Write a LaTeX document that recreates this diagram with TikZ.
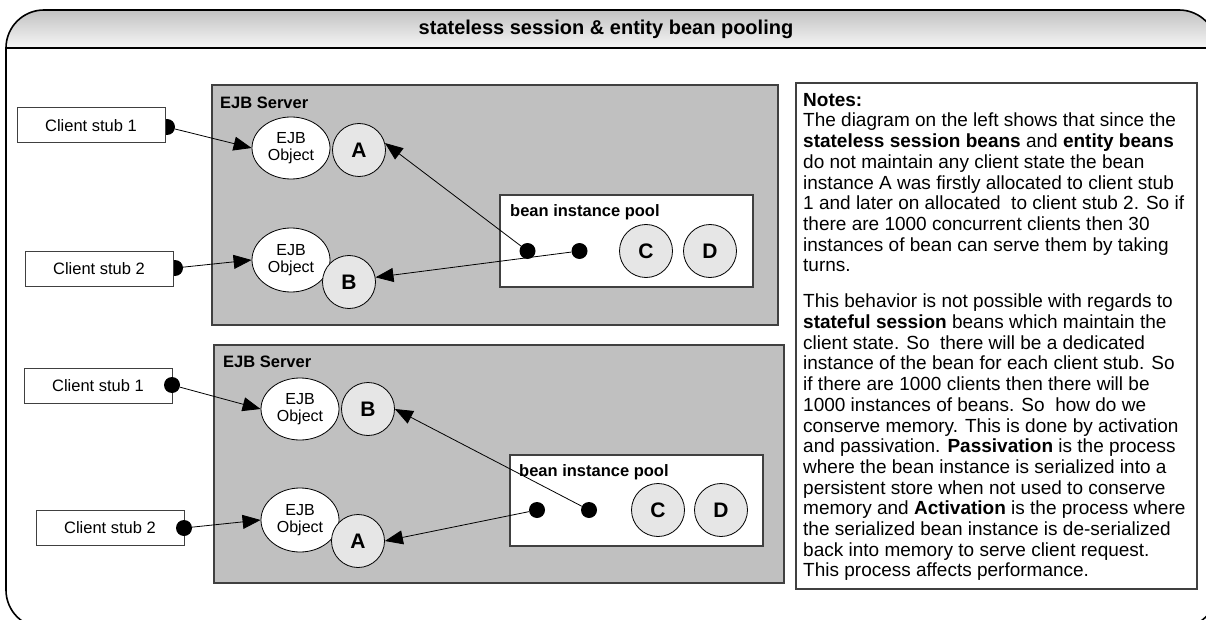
\documentclass[tikz,border=0pt]{standalone}
\usepackage{fontspec}
\setmainfont{Liberation Sans}
\usetikzlibrary{arrows.meta,shapes.geometric}
\definecolor{srv}{HTML}{C0C0C0}
\definecolor{beanfill}{HTML}{E6E6E6}
\definecolor{edgec}{HTML}{404040}
\definecolor{hdrtop}{HTML}{C2C2C2}
\definecolor{hdrbot}{HTML}{F6F6F6}
\begin{document}
\begin{tikzpicture}[x=1pt,y=-1pt,
  stub/.style={draw=edgec,line width=1pt,fill=white,minimum width=148pt,minimum height=35pt,inner sep=0pt,font=\fontsize{16.5}{18}\selectfont},
  dotn/.style={circle,fill=black,minimum size=16pt,inner sep=0pt},
  ejb/.style={ellipse,draw=black,line width=0.8pt,fill=white,minimum width=78pt,minimum height=62pt,inner sep=0pt,align=center,font=\fontsize{16}{17}\selectfont},
  beanc/.style={circle,draw=black,line width=0.8pt,fill=beanfill,minimum size=53pt,inner sep=0pt,font=\fontsize{21}{21}\bfseries\selectfont},
  server/.style={draw=edgec,line width=1.2pt,fill=srv,inner sep=0pt},
  pool/.style={draw=edgec,line width=1.2pt,fill=white,inner sep=0pt},
  conn/.style={line width=0.8pt,-{Triangle[length=18pt,width=14pt]}},
  lbl/.style={font=\fontsize{16.5}{18}\bfseries\selectfont,inner sep=0pt,anchor=base west},
]
\useasboundingbox (0,0) rectangle (1206,620);
\begin{scope}
\clip (0,0) rectangle (1206,620);
% frame and header
\begin{scope}
\clip[rounded corners=38pt] (6,10) rectangle (1217,628);
\shade[top color=hdrtop,bottom color=hdrbot] (0,10) rectangle (1230,48);
\end{scope}
\draw[line width=1.6pt,rounded corners=38pt] (6,10) rectangle (1217,628);
\draw[line width=1.6pt] (6,48) -- (1217,48);
\node[font=\fontsize{20}{22}\bfseries\selectfont] (title) at (606,29) {stateless session \& entity bean pooling};

% ---------- top server ----------
\node[server,minimum width=566pt,minimum height=240pt] (srv1) at (495,205) {};
\node[lbl] (srv1l) at (220,109) {EJB Server};
\node[pool,minimum width=253pt,minimum height=92pt] (pool1) at (626.5,241) {};
\node[lbl] (pool1l) at (510,217) {bean instance pool};

\node[dotn] (s1d) at (167,127) {};
\node[dotn] (s2d) at (175,268) {};
\node[stub] (s1) at (91,125.5) {Client stub 1};
\node[stub] (s2) at (99,268.5) {Client stub 2};

\node[ejb] (e1) at (291,148) {EJB\\Object};
\node[ejb,minimum height=64pt] (e2) at (291,260) {EJB\\Object};
\node[beanc] (a1) at (359,150) {A};
\node[beanc] (b1) at (349,282) {B};

\node[dotn] (p1a) at (527.5,251) {};
\node[dotn] (p1b) at (579.5,251) {};
\node[beanc] (c1) at (646,251) {C};
\node[beanc] (d1) at (710,251) {D};

\draw[conn] (s1d) -- (e1.west);
\draw[conn] (s2d) -- (e2.west);
\draw[conn] (p1a) -- (a1.15);
\draw[conn] (p1b) -- (b1.10);

% ---------- bottom server ----------
\node[server,minimum width=570pt,minimum height=238pt] (srv2) at (499,464) {};
\node[lbl] (srv2l) at (223,367) {EJB Server};
\node[pool,minimum width=253pt,minimum height=91pt] (pool2) at (636.5,500.5) {};

\node[stub] (t1) at (98,385.5) {Client stub 1};
\node[stub] (t2) at (110,527.5) {Client stub 2};
\node[dotn] (t1d) at (172,385) {};
\node[dotn] (t2d) at (184,528) {};

\node[ejb] (f1) at (300,409) {EJB\\Object};
\node[ejb,minimum height=64pt] (f2) at (300,520) {EJB\\Object};
\node[beanc] (b2) at (368,409) {B};
\node[beanc] (a2) at (358,541) {A};

\node[dotn] (p2a) at (537,510) {};
\node[dotn] (p2b) at (589,510) {};
\node[beanc] (c2) at (658,510) {C};
\node[beanc] (d2) at (721,510) {D};

\draw[conn] (t1d) -- (f1.west);
\draw[conn] (t2d) -- (f2.west);
\draw[conn] (p2b) -- (b2.east);
\draw[conn] (p2a) -- (a2.east);
\node[lbl] (pool2l) at (519,476) {bean instance pool};

% ---------- notes ----------
\node[draw=edgec,line width=1.2pt,fill=white,minimum width=401pt,minimum height=506pt,inner sep=0pt] (notesbox) at (996.5,336) {};
\node[anchor=north west,inner sep=0pt,align=left,font=\fontsize{19}{20.7}\selectfont] (notes) at (803,93) {%
\textbf{Notes:}\\
The diagram on the left shows that since the\\
\textbf{stateless session beans} and \textbf{entity beans}\\
do not maintain any client state the bean\\
instance A was firstly allocated to client stub\\
1 and later on allocated\ \ to client stub 2. So if\\
there are 1000 concurrent clients then 30\\
instances of bean can serve them by taking\\
turns.\\[15.3pt]
This behavior is not possible with regards to\\
\textbf{stateful session} beans which maintain the\\
client state. So\ \ there will be a dedicated\\
instance of the bean for each client stub. So\\
if there are 1000 clients then there will be\\
1000 instances of beans. So\ \ how do we\\
conserve memory. This is done by activation\\
and passivation. \textbf{Passivation} is the process\\
where the bean instance is serialized into a\\
persistent store when not used to conserve\\
memory and \textbf{Activation} is the process where\\
the serialized bean instance is de-serialized\\
back into memory to serve client request.\\
This process affects performance.};
\end{scope}
\end{tikzpicture}
\end{document}
